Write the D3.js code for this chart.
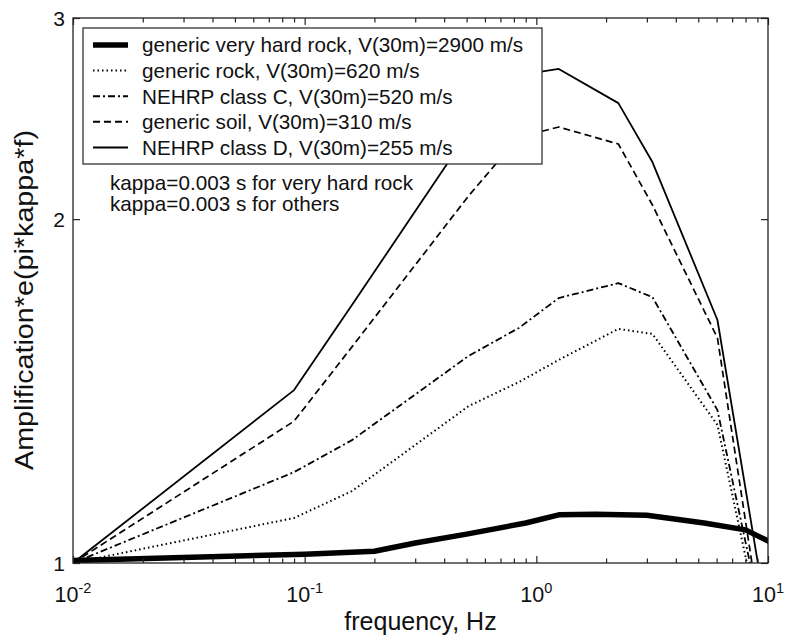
<!DOCTYPE html>
<html lang="en">
<head>
  <meta charset="utf-8">
  <script src="https://d3js.org/d3.v7.min.js"></script>
  <style>
    body { margin: 0; background: #fff; }
    text { font-family: "Liberation Sans", Arial, Helvetica, sans-serif; fill: #111; }
  </style>
</head>
<body>
  <script>
    // frequencies (Hz) of the break points
    const freqHard = [0.01, 0.1, 0.2, 0.3, 0.5, 0.9, 1.25, 1.8, 3.0, 5.3, 8.0, 14.0];
    const freqOther = [0.01, 0.09, 0.16, 0.51, 0.84, 1.25, 2.26, 3.17, 6.05, 16.6];

    // amplification*e(pi*kappa*f) values
    const veryHardRock = [1.005, 1.018, 1.024, 1.041, 1.060, 1.084, 1.102, 1.103, 1.101, 1.084, 1.069, 1.011];
    const genericRock  = [1.0, 1.095, 1.156, 1.372, 1.440, 1.506, 1.603, 1.587, 1.321, 0.505];
    const nehrpC       = [1.0, 1.201, 1.281, 1.518, 1.606, 1.706, 1.758, 1.709, 1.361, 0.52];
    const genericSoil  = [1.0, 1.331, 1.546, 2.096, 2.360, 2.408, 2.327, 2.058, 1.574, 0.414];
    const nehrpD       = [1.0, 1.417, 1.682, 2.384, 2.674, 2.707, 2.527, 2.244, 1.632, 0.477];

    const legendLabels = [
      "generic very hard rock, V(30m)=2900 m/s",
      "generic rock, V(30m)=620 m/s",
      "NEHRP class C, V(30m)=520 m/s",
      "generic soil, V(30m)=310 m/s",
      "NEHRP class D, V(30m)=255 m/s"
    ];
    const notes = ["kappa=0.003 s for very hard rock", "kappa=0.003 s for others"];

    const xMajor = [0.01, 0.1, 1, 10];
    const xExp = ["-2", "-1", "0", "1"];
    const yTicks = [1, 2, 3];

    // layout
    const W = 786, H = 644;
    const pLeft = 73, pRight = 768, pTop = 18, pBottom = 563;

    const svg = d3.select("body").append("svg")
      .attr("width", W).attr("height", H);

    const x = d3.scaleLog().domain([0.01, 10]).range([pLeft, pRight]);
    const y = d3.scaleLog().domain([1, 3]).range([pBottom, pTop]);

    svg.append("clipPath").attr("id", "plotclip")
      .append("rect")
      .attr("x", pLeft).attr("y", pTop)
      .attr("width", pRight - pLeft).attr("height", pBottom - pTop);

    // series + styles
    const series = [
      { f: freqHard, v: veryHardRock, w: 5.5, dash: null },
      { f: freqOther, v: genericRock, w: 2, dash: "1.5,3" },
      { f: freqOther, v: nehrpC, w: 1.8, dash: "7,3,2,3" },
      { f: freqOther, v: genericSoil, w: 1.7, dash: "7,4" },
      { f: freqOther, v: nehrpD, w: 1.8, dash: null }
    ];

    const line = d3.line()
      .x(d => x(d[0]))
      .y(d => y(d[1]));

    const plot = svg.append("g").attr("clip-path", "url(#plotclip)");
    series.forEach(s => {
      plot.append("path")
        .datum(s.f.map((f, i) => [f, s.v[i]]))
        .attr("fill", "none")
        .attr("stroke", "#000")
        .attr("stroke-width", s.w)
        .attr("stroke-dasharray", s.dash)
        .attr("stroke-linejoin", "round")
        .attr("d", line);
    });

    // ticks (inside), bottom + top
    const minor = x.ticks().filter(t => !xMajor.some(m => Math.abs(m - t) < 1e-9));
    const axisStyle = g => {
      g.select(".domain").remove();
      g.selectAll(".tick line").attr("stroke", "#222").attr("stroke-width", 1.2);
      g.selectAll(".tick text").remove();
    };
    svg.append("g").attr("transform", `translate(0,${pBottom})`)
      .call(d3.axisBottom(x).tickValues(xMajor).tickSize(-7)).call(axisStyle);
    svg.append("g").attr("transform", `translate(0,${pBottom})`)
      .call(d3.axisBottom(x).tickValues(minor).tickSize(-4.5)).call(axisStyle);
    svg.append("g").attr("transform", `translate(0,${pTop})`)
      .call(d3.axisTop(x).tickValues(xMajor).tickSize(-7)).call(axisStyle);
    svg.append("g").attr("transform", `translate(0,${pTop})`)
      .call(d3.axisTop(x).tickValues(minor).tickSize(-4.5)).call(axisStyle);
    svg.append("g").attr("transform", `translate(${pLeft},0)`)
      .call(d3.axisLeft(y).tickValues(yTicks).tickSize(-7)).call(axisStyle);
    svg.append("g").attr("transform", `translate(${pRight},0)`)
      .call(d3.axisRight(y).tickValues(yTicks).tickSize(-7)).call(axisStyle);

    // frame
    svg.append("rect")
      .attr("x", pLeft).attr("y", pTop)
      .attr("width", pRight - pLeft).attr("height", pBottom - pTop)
      .attr("fill", "none").attr("stroke", "#222").attr("stroke-width", 1.3);

    // tick labels
    const xl = svg.append("g").selectAll("text").data(xMajor).join("text")
      .attr("x", d => x(d))
      .attr("y", 602)
      .attr("text-anchor", "middle")
      .attr("font-size", 21.5);
    xl.append("tspan").text("10");
    xl.append("tspan").text((d, i) => xExp[i])
      .attr("font-size", 14.5).attr("dy", -9);

    svg.append("g").selectAll("text").data(yTicks).join("text")
      .attr("x", 65)
      .attr("y", d => y(d))
      .attr("dy", "0.36em")
      .attr("text-anchor", "end")
      .attr("font-size", 21)
      .text(d => d);

    // axis titles
    svg.append("text")
      .attr("x", (pLeft + pRight) / 2).attr("y", 630)
      .attr("text-anchor", "middle")
      .attr("font-size", 25)
      .text("frequency, Hz");
    svg.append("text")
      .attr("transform", `translate(33,300) rotate(-90)`)
      .attr("text-anchor", "middle")
      .attr("font-size", 25)
      .attr("textLength", 340)
      .attr("lengthAdjust", "spacingAndGlyphs")
      .text("Amplification*e(pi*kappa*f)");

    // legend
    const leg = svg.append("g");
    leg.append("rect")
      .attr("x", 83).attr("y", 28).attr("width", 459).attr("height", 136)
      .attr("fill", "#fff").attr("stroke", "#333").attr("stroke-width", 1.3);
    legendLabels.forEach((lab, i) => {
      const cy = 45 + i * 25.6;
      leg.append("line")
        .attr("x1", 93).attr("x2", 128).attr("y1", cy).attr("y2", cy)
        .attr("stroke", "#000")
        .attr("stroke-width", i === 0 ? 5.5 : 2)
        .attr("stroke-dasharray", series[i].dash);
      leg.append("text")
        .attr("x", 142).attr("y", cy).attr("dy", "0.36em")
        .attr("font-size", 20.7)
        .text(lab);
    });

    notes.forEach((t, i) => {
      svg.append("text")
        .attr("x", 110).attr("y", 183 + i * 21).attr("dy", "0.36em")
        .attr("font-size", 20.7)
        .text(t);
    });
  </script>
</body>
</html>
